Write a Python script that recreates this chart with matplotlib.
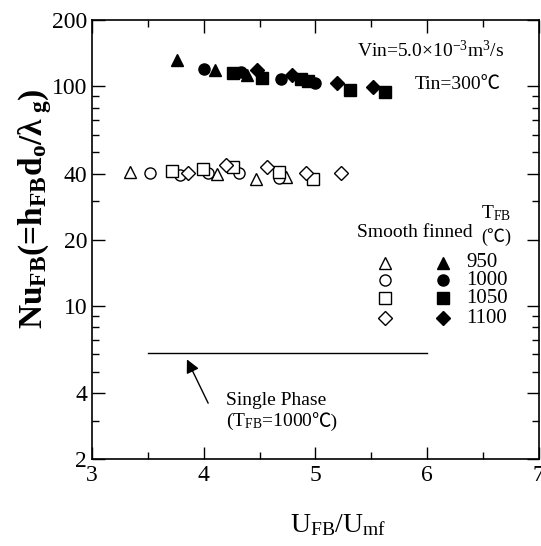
import matplotlib
matplotlib.use("Agg")
import matplotlib.pyplot as plt
from matplotlib.ticker import FixedLocator, NullFormatter

plt.rcParams["font.family"] = ["Liberation Serif", "Noto Sans CJK JP"]
plt.rcParams["mathtext.fontset"] = "custom"
plt.rcParams["mathtext.rm"] = "Liberation Serif"
plt.rcParams["mathtext.it"] = "Liberation Serif:italic"
plt.rcParams["mathtext.bf"] = "Liberation Serif:bold"

# -----------------------------------------------------------------------
# Data: Nu_FB vs U_FB/U_mf, finned tubes (filled) and smooth tubes (open)
# -----------------------------------------------------------------------
temps = [950, 1000, 1050, 1100]
markers = ["^", "o", "s", "D"]

fin_x = [
    [3.76, 4.10, 4.39],
    [4.00, 4.33, 4.69, 5.00],
    [4.26, 4.52, 4.87, 4.93, 5.31, 5.62],
    [4.48, 4.79, 5.19, 5.52],
]
fin_nu = [
    [131.5, 118.3, 112.3],
    [119.6, 115.8, 107.8, 103.3],
    [114.7, 108.9, 107.8, 105.5, 96.0, 94.0],
    [118.3, 112.3, 103.3, 99.0],
]

smooth_x = [
    [3.34, 4.12, 4.47, 4.74],
    [3.52, 3.79, 4.04, 4.32, 4.67],
    [3.72, 3.99, 4.26, 4.67, 4.98],
    [3.86, 4.20, 4.57, 4.92, 5.23],
]
smooth_nu = [
    [40.7, 39.8, 37.7, 38.6],
    [40.3, 39.6, 40.3, 40.3, 38.1],
    [41.1, 41.9, 42.7, 40.7, 37.7],
    [40.3, 44.0, 42.7, 40.3, 40.3],
]

single_x = [3.5, 6.0]
single_nu = [6.1, 6.1]

y_major = [2, 4, 10, 20, 40, 100, 200]
y_minor = [3, 5, 6, 7, 8, 9, 30, 50, 60, 70, 80, 90]


def size_of(m):
    return 7 if m == "D" else 8


def text_with_degc(x, y, head, tail, **kw):
    # mathtext can't fall back to another font for the ℃ sign,
    # so draw it as a second piece right after the first
    t = ax.text(x, y, head, ha="left", va="baseline", **kw)
    ax.annotate(tail, xy=(1, 0), xycoords=t, xytext=(-1.5, 0),
                textcoords="offset points", ha="left", va="bottom",
                fontsize=kw.get("fontsize", 14))
    return t


# -----------------------------------------------------------------------
# Plot
# -----------------------------------------------------------------------
fig = plt.figure(figsize=(5.41, 5.46), dpi=100)
ax = fig.add_axes([0.170, 0.159, 0.826, 0.804])

for m, xs, ys in zip(markers, fin_x, fin_nu):
    ax.plot(xs, ys, m, color="black", markersize=size_of(m), linestyle="none")
for m, xs, ys in zip(markers, smooth_x, smooth_nu):
    ax.plot(xs, ys, m, markerfacecolor="white", markeredgecolor="black",
            markeredgewidth=1.0, markersize=size_of(m), linestyle="none")

ax.plot(single_x, single_nu, color="black", linewidth=1.0)
ax.annotate("", xy=(3.85, 5.7), xytext=(4.04, 3.6),
            arrowprops=dict(arrowstyle="-|>", color="black", lw=1.0,
                            mutation_scale=20, shrinkA=0, shrinkB=0))
ax.text(4.2, 3.71, "Single Phase", fontsize=14, ha="left", va="center")
text_with_degc(4.2, 2.82, r"(T$_{\rm FB}$=1000", "℃)", fontsize=14)

ax.text(0.594, 0.932, r"Vin=5.0×10$^{-3}$m$^{3}$/s", transform=ax.transAxes,
        fontsize=14, ha="left", va="center")
ax.text(0.722, 0.853, "Tin=300℃", transform=ax.transAxes,
        fontsize=14, ha="left", va="center")

# Legend drawn by hand: open = smooth, filled = finned
ax.text(0.593, 0.517, "Smooth finned", transform=ax.transAxes,
        fontsize=14, ha="left", va="center")
ax.text(0.905, 0.560, r"T$_{\rm FB}$", transform=ax.transAxes,
        fontsize=14, ha="center", va="center")
ax.text(0.905, 0.505, "(℃)", transform=ax.transAxes,
        fontsize=13, ha="center", va="center")
row_y = [0.448, 0.408, 0.367, 0.321]
for m, t, yy in zip(markers, temps, row_y):
    ax.plot([0.655], [yy], m, transform=ax.transAxes, markersize=size_of(m),
            markerfacecolor="white", markeredgecolor="black",
            markeredgewidth=1.0, clip_on=False)
    ax.plot([0.785], [yy], m, transform=ax.transAxes, markersize=size_of(m),
            color="black", clip_on=False)
    ax.text(0.838, yy, str(t), transform=ax.transAxes, fontsize=15,
            ha="left", va="center")

ax.set_xlim(3, 7)
ax.set_yscale("log")
ax.set_ylim(2, 200)
ax.set_xticks([3, 4, 5, 6, 7])
ax.set_xticks([3.5, 4.5, 5.5, 6.5], minor=True)
ax.yaxis.set_major_locator(FixedLocator(y_major))
ax.yaxis.set_minor_locator(FixedLocator(y_minor))
ax.set_yticklabels([str(v) for v in y_major])
ax.yaxis.set_minor_formatter(NullFormatter())
ax.tick_params(which="both", direction="in", top=True, right=True,
               labelsize=17, width=1.0)
ax.tick_params(axis="x", labelsize=17, pad=4)
ax.tick_params(which="major", length=9)
ax.tick_params(which="minor", length=5)
for s in ax.spines.values():
    s.set_linewidth(1.2)

ax.set_xlabel(r"U$_{\rm FB}$/U$_{\rm mf}$", fontsize=20)
ax.xaxis.set_label_coords(0.55, -0.12)
ax.set_ylabel(r"Nu$_{\mathbf{FB}}$(=h$_{\mathbf{FB}}$d$_{\mathbf{o}}$/"
              r"λ$_{\mathbf{\ g}}$)", fontsize=24, fontweight="bold")
ax.yaxis.set_label_coords(-0.085, 0.57)

fig.savefig("out.png", dpi=100)
plt.close(fig)
